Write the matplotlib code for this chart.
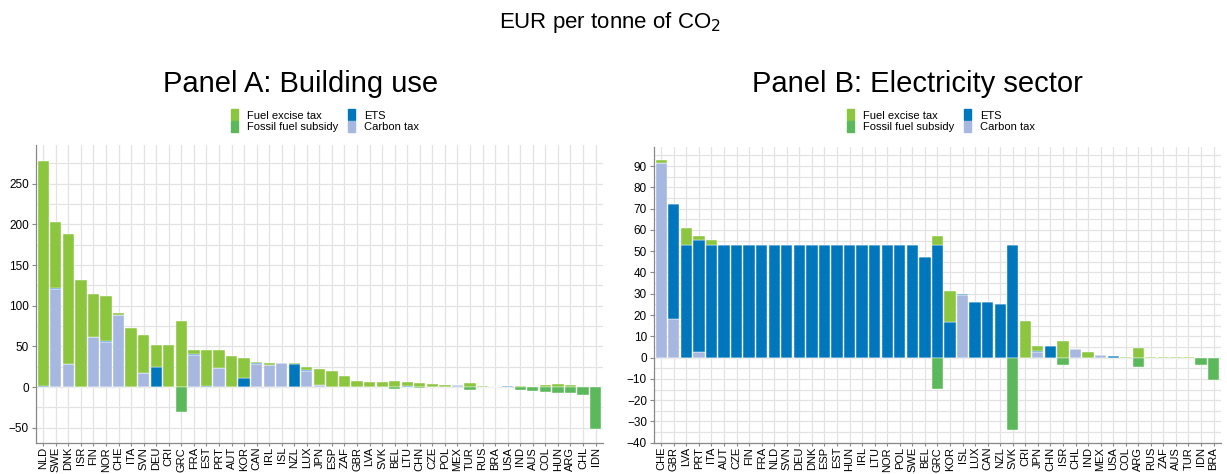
import matplotlib

matplotlib.use("Agg")
import matplotlib.pyplot as plt
import numpy as np
from matplotlib.patches import Patch

plt.rcParams["font.family"] = ["Liberation Sans", "DejaVu Sans"]

# colours
C_EXCISE = "#8cc63f"
C_SUBSIDY = "#5bb95b"
C_ETS = "#0077bd"
C_CARBON = "#a6b7e0"

# Panel A: building use
a_countries = ["NLD", "SWE", "DNK", "ISR", "FIN", "NOR", "CHE", "ITA", "SVN", "DEU",
               "CRI", "GRC", "FRA", "EST", "PRT", "AUT", "KOR", "CAN", "IRL", "ISL",
               "NZL", "LUX", "JPN", "ESP", "ZAF", "GBR", "LVA", "SVK", "BEL", "LTU",
               "CHN", "CZE", "POL", "MEX", "TUR", "RUS", "BRA", "USA", "IND", "AUS",
               "COL", "HUN", "ARG", "CHL", "IDN"]
a_carbon = [0, 120.5, 28, 0, 62, 55, 88.5, 0, 17.6, 0,
            0, 0, 40, 0, 24, 0, 0, 28, 27, 29,
            0, 19.7, 2, 0, 0, 0, 0, 0, 0, 0,
            0, 0, 0, 2, 0, 0, 0, 0, 0, 0,
            0.5, 0, 0, 0, 0]
a_ets = [1, 1, 0, 0, 0, 2, 0, 0, 0, 24.6,
         0, 0, 1, 1, 0, 0, 11, 1.5, 0, 0,
         28, 0.8, 0, 0, 0, 0, 0, 0, 0, 1,
         0, 0, 0, 0, 0, 0, 0, 1.5, 0, 0,
         0, 0, 0, 0, 0]
a_excise = [277, 82, 160.5, 131, 53, 55, 2, 72, 46.4, 27,
            51.6, 80.7, 5, 45, 21, 38.5, 24.6, 1.5, 3, 1,
            1, 4.5, 20.5, 19.7, 13, 8, 6.5, 6.5, 7.8, 4.7,
            5.3, 3.3, 2, 0, 4.5, 1.2, 0, 0, 1, 0,
            1.5, 3.3, 2.5, 0, 0]
a_subsidy = [0, 0, 0, 0, 0, 0, 0, 0, 0, 0,
             0, -30.7, 0, 0, 0, 0, 0, 0, 0, 0,
             0, 0, 0, 0, 0, 0, 0, 0, -2, 0,
             -1, 0, 0, 0, -3, 0, 0, 0, -3, -4.5,
             -6.5, -7.4, -7.4, -9.8, -52]

# Panel B: electricity sector
b_countries = ["CHE", "GBR", "LVA", "PRT", "ITA", "AUT", "CZE", "FIN", "FRA", "NLD",
               "SVN", "DEU", "DNK", "ESP", "EST", "HUN", "IRL", "LTU", "NOR", "POL",
               "SWE", "BEL", "GRC", "KOR", "ISL", "LUX", "CAN", "NZL", "SVK", "CRI",
               "JPN", "CHN", "ISR", "CHL", "IND", "MEX", "USA", "COL", "ARG", "RUS",
               "ZAF", "AUS", "TUR", "IDN", "BRA"]
b_carbon = [91.5, 18, 0, 2.7, 0, 0, 0, 0, 0, 0,
            0, 0, 0, 0, 0, 0, 0, 0, 0, 0,
            0, 0, 0, 0, 29.3, 0, 0, 0, 0, 0,
            2.4, 0, 0, 4.2, 0, 1.25, 0, 0, 0, 0,
            0, 0, 0, 0, 0]
b_ets = [0, 54.4, 52.7, 52.6, 52.7, 52.7, 52.7, 52.7, 52.7, 52.7,
         52.7, 52.7, 52.7, 52.7, 52.7, 52.7, 52.7, 52.7, 52.7, 52.7,
         52.7, 47.4, 52.7, 16.8, 0.7, 26.3, 25.9, 25.4, 52.7, 0,
         0.5, 5.3, 0, 0, 0, 0, 0.9, 0, 0, 0,
         0, 0, 0, 0, 0]
b_excise = [1.5, 0, 8.3, 1.7, 2.5, 0, 0, 0, 0, 0,
            0, 0, 0, 0, 0, 0, 0, 0, 0, 0,
            0, 0, 4.5, 14.6, 0, 0, 0, 0, 0, 17.2,
            2.4, 0, 7.8, 0, 2.5, 0, 0, 0.5, 4.5, 0.2,
            0.2, 0.2, 0.2, 0, 0]
b_subsidy = [0, 0, 0, 0, 0, 0, 0, 0, 0, 0,
             0, 0, 0, 0, 0, 0, 0, 0, 0, 0,
             0, 0, -14.6, 0, 0, 0, 0, 0, -33.9, 0,
             0, 0, -3.6, 0, 0, 0, 0, 0, -4.5, 0,
             0, 0, 0, -3.6, -10.5]


def draw_panel(ax, countries, carbon, ets, excise, subsidy, ylim, major, minor):
    x = np.arange(len(countries))
    carbon = np.array(carbon)
    ets = np.array(ets)
    excise = np.array(excise)
    kw = dict(width=0.9, edgecolor="white", linewidth=0.3, zorder=3)
    ax.bar(x, carbon, color=C_CARBON, **kw)
    ax.bar(x, ets, bottom=carbon, color=C_ETS, **kw)
    ax.bar(x, excise, bottom=carbon + ets, color=C_EXCISE, **kw)
    ax.bar(x, subsidy, color=C_SUBSIDY, **kw)

    ax.set_xlim(-0.58, len(countries) - 0.42)
    ax.set_ylim(*ylim)
    ax.set_xticks(x)
    ax.set_xticklabels(countries, rotation=90, fontsize=8)
    ax.set_yticks(np.arange(major[0], major[1] + 1, major[2]))
    ax.set_yticks(np.arange(minor[0], minor[1] + 1, minor[2]), minor=True)
    ax.tick_params(axis="y", which="major", labelsize=8.5, length=3, color="#888888", pad=2)
    ax.tick_params(axis="y", which="minor", length=0)
    ax.tick_params(axis="x", length=2, color="#888888", pad=1)
    ax.grid(True, which="both", axis="y", color="#e3e3e3", lw=0.9, zorder=0)
    ax.grid(True, which="major", axis="x", color="#e3e3e3", lw=0.9, zorder=0)
    for s in ["top", "right"]:
        ax.spines[s].set_visible(False)
    for s in ["left", "bottom"]:
        ax.spines[s].set_color("#888888")
        ax.spines[s].set_linewidth(0.9)


fig = plt.figure(figsize=(12.27, 4.74), dpi=100)
ax1 = fig.add_axes([0.0293, 0.066, 0.462, 0.628])
ax2 = fig.add_axes([0.533, 0.066, 0.462, 0.624])

draw_panel(ax1, a_countries, a_carbon, a_ets, a_excise, a_subsidy,
           (-68.4, 297.5), (-50, 250, 50), (-50, 275, 25))
draw_panel(ax2, b_countries, b_carbon, b_ets, b_excise, b_subsidy,
           (-40, 99), (-40, 90, 10), (-40, 95, 5))

fig.text(0.497, 0.952, "EUR per tonne of CO$_2$", ha="center", va="center", fontsize=16)
fig.text(0.245, 0.822, "Panel A: Building use", ha="center", va="center", fontsize=21)
fig.text(0.748, 0.822, "Panel B: Electricity sector", ha="center", va="center", fontsize=21)

handles = [Patch(color=C_EXCISE), Patch(color=C_SUBSIDY), Patch(color=C_ETS), Patch(color=C_CARBON)]
labels = ["Fuel excise tax", "Fossil fuel subsidy", "ETS", "Carbon tax"]
for cx in (0.265, 0.767):
    fig.legend(handles, labels, ncol=2, loc="center", bbox_to_anchor=(cx, 0.745),
               frameon=False, fontsize=8, handlelength=0.6, handleheight=1.1,
               handletextpad=0.8, columnspacing=0.9, labelspacing=0.05,
               borderpad=0)

fig.savefig("out.png", dpi=100)
